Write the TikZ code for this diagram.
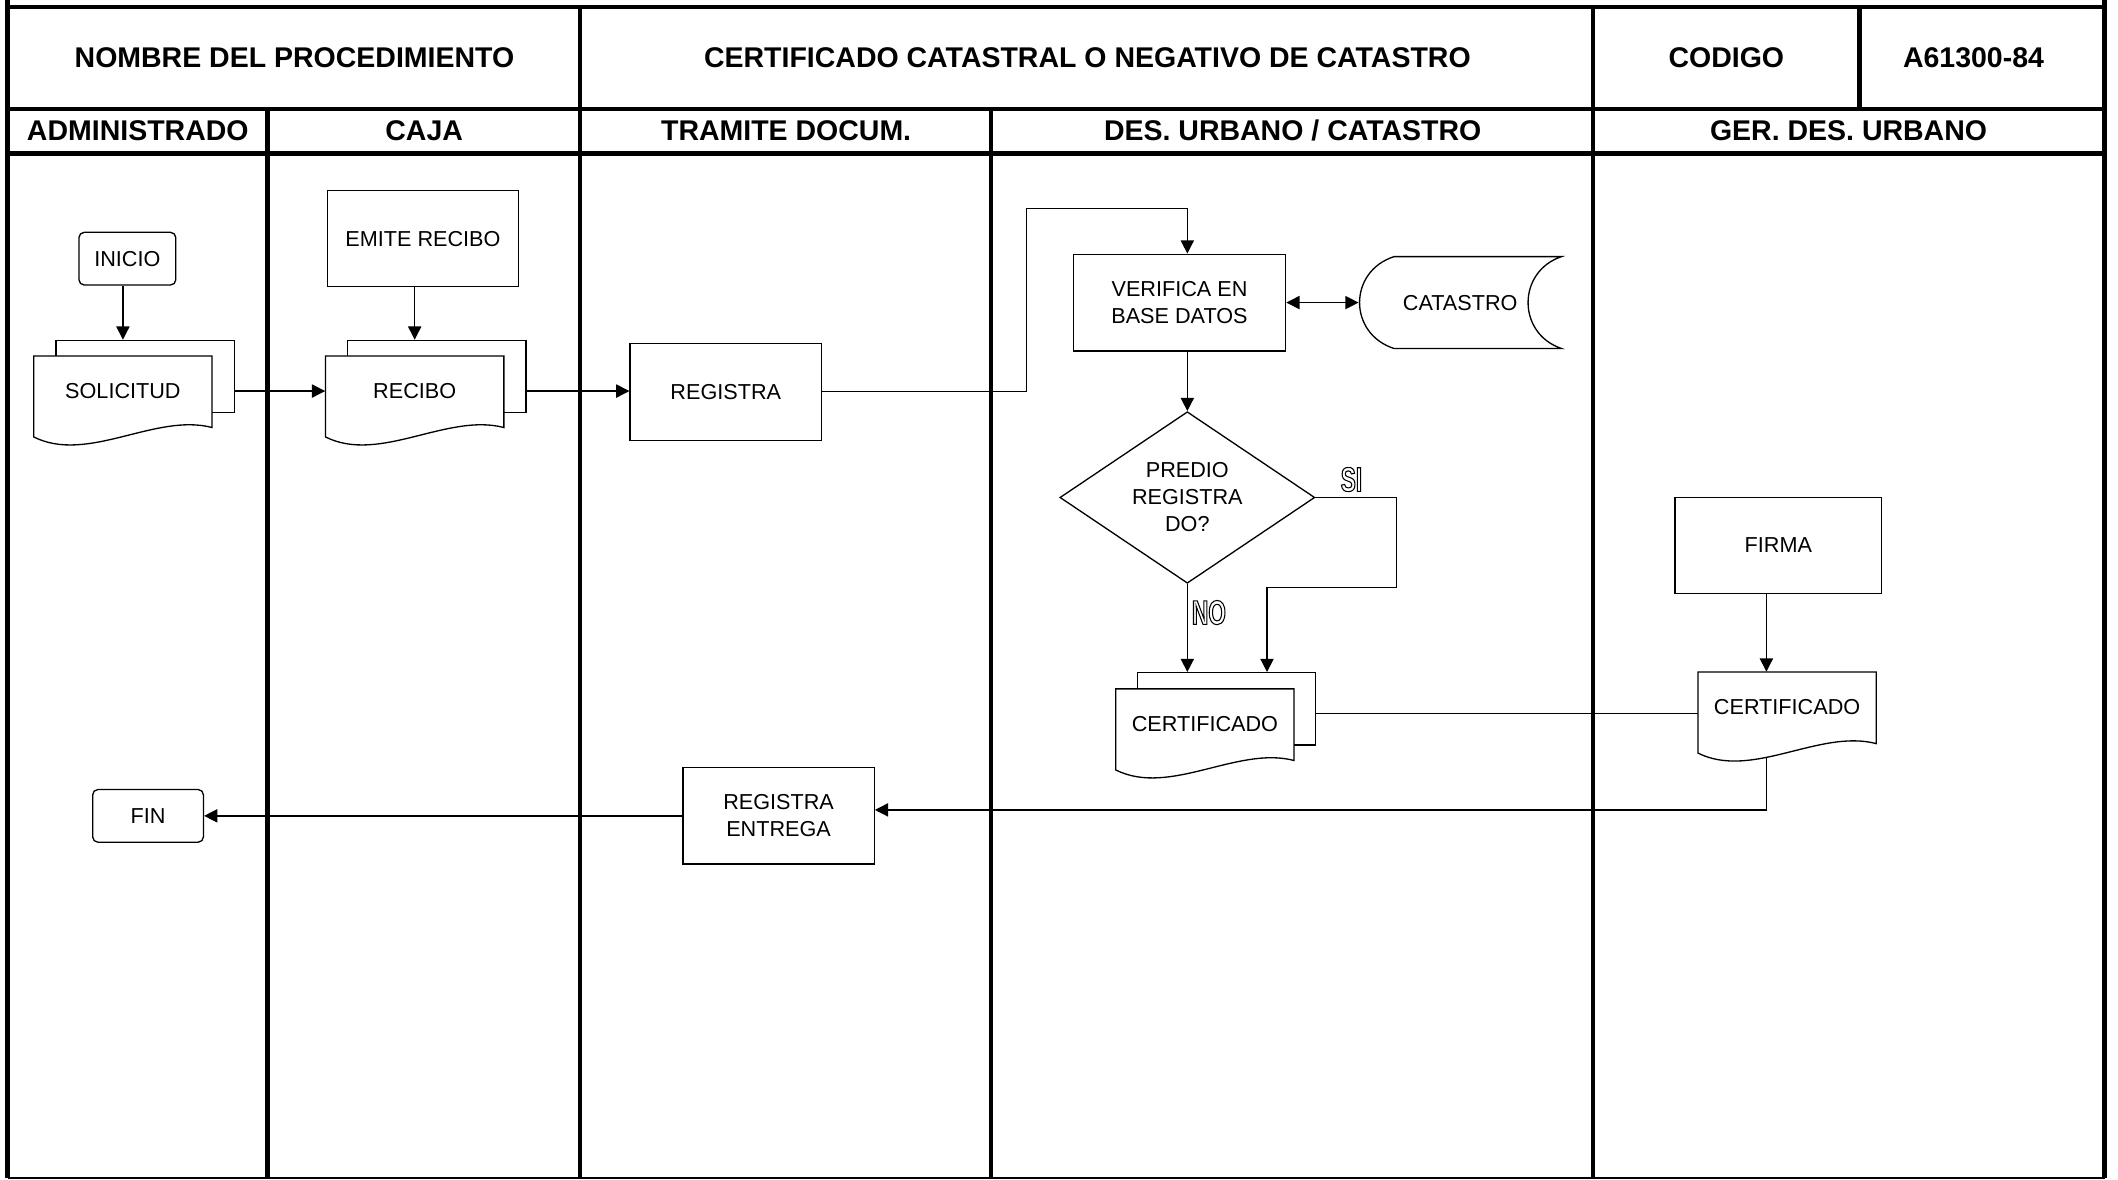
\documentclass[tikz,border=0pt]{standalone}
\usepackage{fontspec}
\setmainfont{Liberation Sans}
\newfontfamily\narrowsans{Liberation Sans}[FakeStretch=0.66]
\usetikzlibrary{arrows.meta,shapes.geometric}
\newcommand\uu{0.027cm}
\newcommand\hollowtext[1]{\special{pdf:literal direct 1 Tr 0.6 w}#1\special{pdf:literal direct 0 Tr}}
\newcommand\docfront[2]{%
  \begin{scope}[shift={(#1,#2)}]
    \draw[shp,fill=white] (0,0) -- (132,0) -- (132,53) .. controls (90,42) and (40,80) .. (0,60) -- cycle;
  \end{scope}}
\tikzset{
  frame/.style={line width=2.5pt},
  bottomline/.style={line width=0.8pt},
  shp/.style={draw, line width=0.75pt},
  conn/.style={line width=0.75pt},
  arr/.style={conn, -{Triangle[length=7.5pt,width=7.5pt]}},
  arrboth/.style={conn, {Triangle[length=7.5pt,width=7.5pt]}-{Triangle[length=7.5pt,width=7.5pt]}},
  hdr/.style={font=\fontsize{16.2}{19}\selectfont\bfseries, inner sep=0},
  txt/.style={font=\fontsize{12.3}{15.37}\selectfont, align=center, inner sep=0},
  procbox/.style={txt, shp, rectangle},
  termbox/.style={txt, shp, rectangle, rounded corners=3pt},
  backdoc/.style={shp, fill=white, rectangle, inner sep=0, minimum width=132*\uu, minimum height=53.5*\uu},
  doctext/.style={txt, rectangle, minimum width=132*\uu, minimum height=52*\uu},
  lbl/.style={font=\narrowsans\bfseries\fontsize{19.5}{22}\selectfont, inner sep=0},
}
\begin{document}
\begin{tikzpicture}[x=\uu, y=-\uu]
\fill[white] (0,0) rectangle (1568,873);
\useasboundingbox (0,0) rectangle (1568,873);

% ---------- frame and lanes ----------
\draw[frame] (5.6,0) -- (5.6,872);
\draw[frame] (1558,0) -- (1558,872);
\draw[frame] (5.6,5.3) -- (1558,5.3);
\draw[frame] (5.6,80.7) -- (1558,80.7);
\draw[frame] (5.6,113.6) -- (1558,113.6);
\draw[bottomline] (5.6,872) -- (1558,872);
\draw[frame] (198,80.7) -- (198,872);
\draw[frame] (429.5,5.3) -- (429.5,872);
\draw[frame] (733.5,80.7) -- (733.5,872);
\draw[frame] (1179.5,5.3) -- (1179.5,872);
\draw[frame] (1376.5,5.3) -- (1376.5,80.7);

% ---------- header texts ----------
\node[hdr] (hnom) at (218,42.5) {NOMBRE DEL PROCEDIMIENTO};
\node[hdr] (htit) at (805,42.5) {CERTIFICADO CATASTRAL O NEGATIVO DE CATASTRO};
\node[hdr] (hcod) at (1278,43) {CODIGO};
\node[hdr] (hnum) at (1461,43) {A61300-84};
\node[hdr] (ladm) at (102,96.5) {ADMINISTRADO};
\node[hdr] (lcaj) at (314,96.5) {CAJA};
\node[hdr] (ltra) at (582,96.5) {TRAMITE DOCUM.};
\node[hdr] (ldes) at (957,96.5) {DES. URBANO / CATASTRO};
\node[hdr] (lger) at (1368.5,96.5) {GER. DES. URBANO};

% ---------- shapes ----------
\node[termbox, minimum width=71.7*\uu, minimum height=39*\uu] (inicio) at (94.3,191.5) {INICIO};
\node[procbox, minimum width=141.7*\uu, minimum height=71*\uu] (emite) at (313.1,176.7) {EMITE RECIBO};

% SOLICITUD (multi document)
\node[backdoc] (solB) at (107.5,278.7) {};
\docfront{25}{263.5}
\node[doctext] (sol) at (91,289.5) {SOLICITUD};

% RECIBO (multi document)
\node[backdoc] (recB) at (323.5,278.7) {};
\docfront{241}{263.5}
\node[doctext] (rec) at (307,289.5) {RECIBO};

\node[procbox, minimum width=141.7*\uu, minimum height=71.8*\uu] (reg) at (537.3,290) {REGISTRA};

\node[procbox, minimum width=157.2*\uu, minimum height=71.6*\uu] (ver) at (873.2,224) {VERIFICA EN\\BASE DATOS};

% CATASTRO (stored data)
\draw[shp] (1032,190) -- (1156,190) .. controls (1123,201) and (1123,247) .. (1156,258)
  -- (1032,258) .. controls (998,247) and (998,201) .. (1032,190) -- cycle;
\node[txt, rectangle, minimum width=150*\uu, minimum height=68*\uu] (cat) at (1081,224) {CATASTRO};

\node[txt, shp, diamond, shape aspect=1.486, minimum width=188.7*\uu, minimum height=127*\uu] (dec) at (879,368.3) {PREDIO\\REGISTRA\\DO?};

% CERTIFICADO left (multi document)
\node[backdoc] (certB) at (908,524.75) {};
\docfront{826}{510}
\node[doctext] (certL) at (892,536) {CERTIFICADO};

\node[procbox, minimum width=153*\uu, minimum height=71*\uu] (firma) at (1316.5,403.7) {FIRMA};

% CERTIFICADO right (single document)
\docfront{1257}{497.5}
\node[doctext] (certR) at (1323,523.5) {CERTIFICADO};

\node[procbox, minimum width=141.6*\uu, minimum height=71.3*\uu] (regE) at (576.4,604) {REGISTRA\\ENTREGA};
\node[termbox, minimum width=82*\uu, minimum height=39*\uu] (fin) at (109.6,604) {FIN};

% ---------- helper coordinates ----------
\coordinate (k1) at (759.8,154.2);
\coordinate (k2) at (1033.8,434.8);
\coordinate (k3) at (938,434.8);
\coordinate (k4) at (1307.7,599.6);
\coordinate (k5) at (1307.7,561);
\coordinate (k6) at (1257,528);

% ---------- connectors ----------
\draw[arr] (sol |- inicio.south) -- (sol |- solB.north);
\draw[arr] (rec |- emite.south) -- (rec |- recB.north);
\draw[arr] (solB.east |- sol) -- (rec.west);
\draw[arr] (recB.east |- rec) -- (reg.west |- rec);
\draw[arr] (reg.east) -| (k1) -| (dec.north |- ver.north);
\draw[arrboth] (ver.east) -- (cat.west);
\draw[arr] (dec.north |- ver.south) -- (dec.north);
\draw[arr] (dec.south) -- (dec.south |- certB.north);
\draw[arr] (dec.east) -| (k2) -- (k3) -- (k3 |- certB.north);
\draw[conn] (certB.east |- k6) -- (certR.west |- k6);
\draw[arr] (k4 |- firma.south) -- (k4 |- certR.north);
\draw[arr] (k5) -- (k4) -- (k4 -| regE.east);
\draw[arr] (regE.west) -- (regE.west -| fin.east);

% ---------- branch labels ----------
\node[lbl] (si) at (1000.5,355) {\hollowtext{SI}};
\node[lbl] (no) at (895,453.5) {\hollowtext{NO}};
\end{tikzpicture}
\end{document}
